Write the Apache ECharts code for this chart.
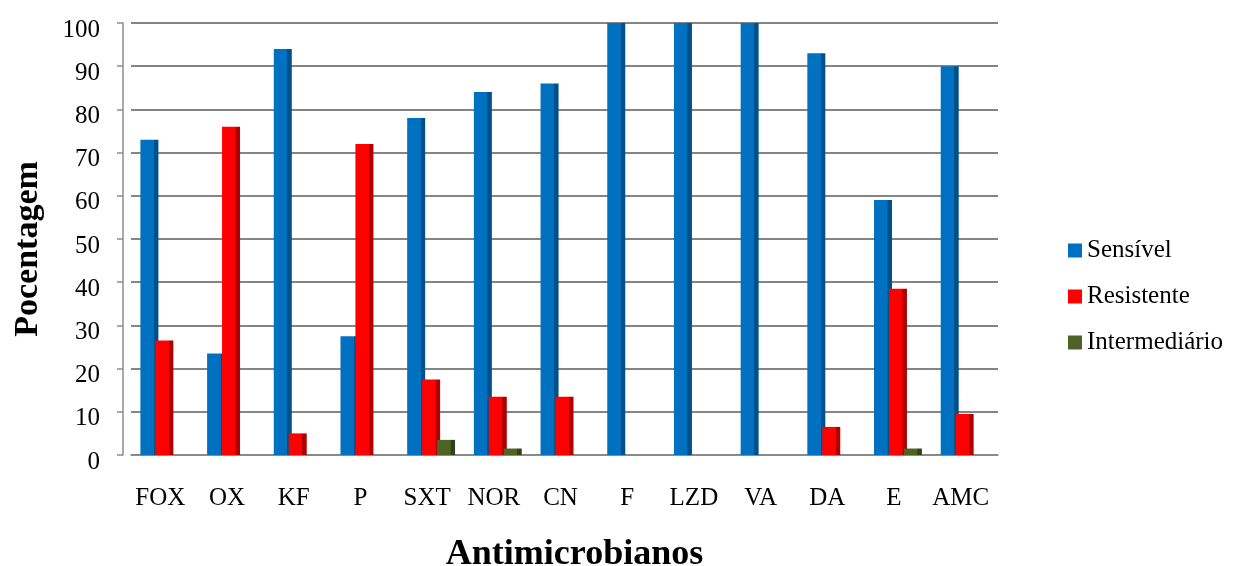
<!DOCTYPE html>
<html>
<head>
<meta charset="utf-8">
<script src="https://cdn.jsdelivr.net/npm/echarts@6/dist/echarts.min.js"></script>
<style>html,body{margin:0;padding:0;background:#fff;}#c{width:1238px;height:566px;}</style>
</head>
<body>
<div id="c"></div>
<script>
const categories = ['FOX','OX','KF','P','SXT','NOR','CN','F','LZD','VA','DA','E','AMC'];
const sensivel = [73, 23.5, 94, 27.5, 78, 84, 86, 100, 100, 100, 93, 59, 90];
const resistente = [26.5, 76, 5, 72, 17.5, 13.5, 13.5, 0, 0, 0, 6.5, 38.5, 9.5];
const intermediario = [0, 0, 0, 0, 3.5, 1.5, 0, 0, 0, 0, 0, 1.5, 0];
const yTicks = [0,10,20,30,40,50,60,70,80,90,100];
const seriesNames = ['Sensível','Resistente','Intermediário'];
const colors = ['#0070C0','#FF0000','#4F6228'];
const darks = ['#00508c','#b00000','#33401a'];

function shade(c, d) {
  return {type:'linear', x:0, y:0, x2:1, y2:0, colorStops:[
    {offset:0, color:c},{offset:0.74, color:c},{offset:0.76, color:d},{offset:1, color:d}]};
}
const font = '"Liberation Serif","Times New Roman",serif';
const chart = echarts.init(document.getElementById('c'));
const values = [sensivel, resistente, intermediario];
chart.setOption({
  animation:false,
  textStyle:{fontFamily:font},
  grid:{left:131, right:240, top:23, bottom:111, containLabel:false, outerBoundsMode:'none'},
  legend:{
    orient:'vertical', left:1063, top:233, itemGap:21, itemWidth:14, itemHeight:14,
    icon:'rect', textStyle:{fontFamily:font, fontSize:25, color:'#000'},
    data:seriesNames.map((n,i)=>({name:n, itemStyle:{color:colors[i]}}))
  },
  xAxis:{
    type:'category', data:categories,
    name:'Antimicrobianos', nameLocation:'middle', nameGap:82,
    nameTextStyle:{fontFamily:font, fontSize:36, fontWeight:'bold', color:'#000', padding:[0,0,0,20]},
    axisLine:{lineStyle:{color:'#8c8c8c', width:1.5}},
    axisTick:{show:false},
    axisLabel:{color:'#000', fontSize:25, fontFamily:font, margin:31, interval:0, padding:[0,8,0,0]}
  },
  yAxis:{
    type:'value', min:0, max:100, interval:10, offset:8,
    name:'Pocentagem', nameLocation:'middle', nameGap:78,
    nameTextStyle:{fontFamily:font, fontSize:34, fontWeight:'bold', color:'#000', padding:[0,20,0,0]},
    axisLine:{show:true, lineStyle:{color:'#8c8c8c', width:1.5}},
    axisTick:{show:true, length:6, lineStyle:{color:'#8c8c8c', width:1.5}},
    axisLabel:{color:'#000', fontSize:25, fontFamily:font, margin:23, verticalAlign:'top', lineHeight:14,
      formatter:v => yTicks.includes(v) ? String(v) : ''},
    splitLine:{lineStyle:{color:'#858585', width:1.8}}
  },
  series:seriesNames.map((n,i)=>({
    name:n, type:'bar', data:values[i], barWidth:18, barGap:'-17%',
    itemStyle:{color:shade(colors[i], darks[i])}
  }))
});
</script>
</body>
</html>
